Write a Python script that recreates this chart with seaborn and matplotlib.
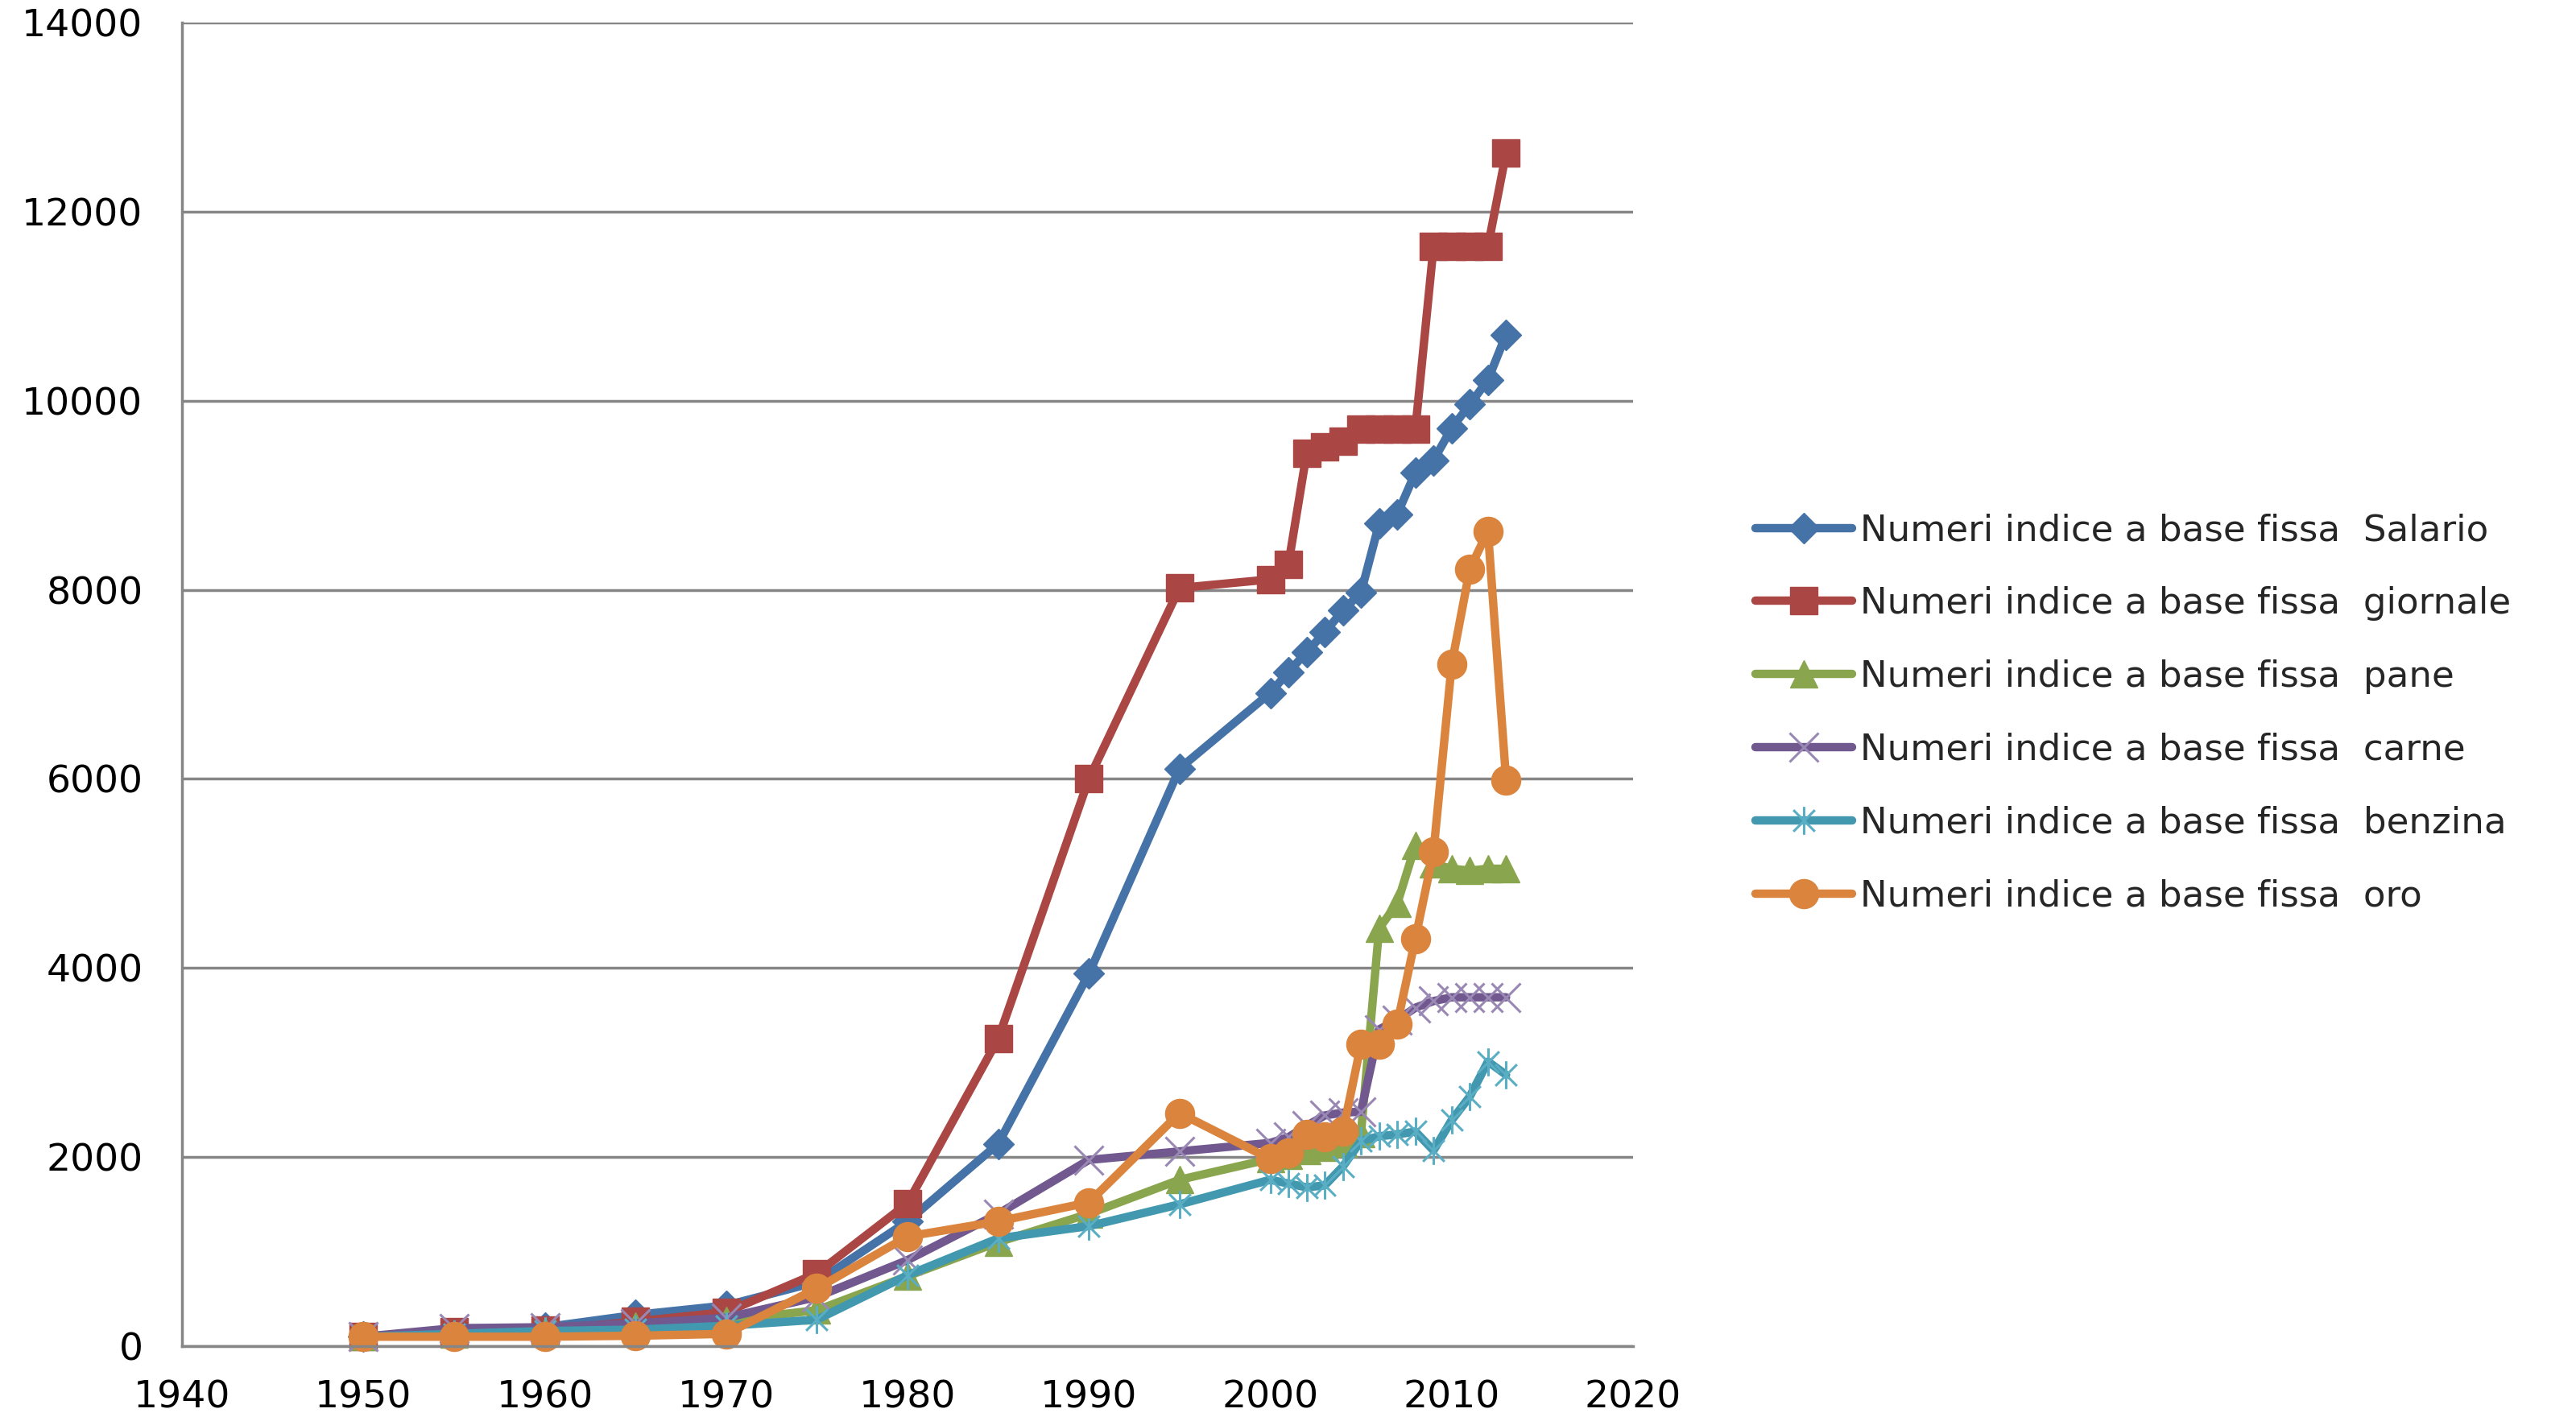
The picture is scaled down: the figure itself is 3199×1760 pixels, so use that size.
import numpy as np
import pandas as pd
import matplotlib
matplotlib.use("Agg")
import matplotlib.pyplot as plt
from matplotlib.path import Path
import seaborn as sns

# Years of observation
anni = [1950, 1955, 1960, 1965, 1970, 1975, 1980, 1985, 1990, 1995,
        2000, 2001, 2002, 2003, 2004, 2005, 2006, 2007, 2008, 2009,
        2010, 2011, 2012, 2013]

# Fixed-base index numbers (1950 = 100)
salario = [100, 140, 200, 330, 430, 680, 1320, 2140, 3940, 6110,
           6910, 7130, 7340, 7550, 7780, 7970, 8700, 8800, 9240, 9370,
           9710, 9960, 10220, 10700]
giornale = [100, 150, 170, 260, 360, 770, 1510, 3250, 6000, 8020,
            8110, 8270, 9440, 9510, 9570, 9700, 9700, 9700, 9700, 11630,
            11630, 11630, 11630, 12620]
pane = [100, 130, 150, 210, 270, 380, 740, 1100, 1400, 1760,
        1980, 2020, 2070, 2100, 2150, 2250, 4420, 4680, 5300, 5100,
        5050, 5030, 5050, 5050]
carne = [100, 190, 200, 240, 300, 520, 910, 1400, 1970, 2060,
         2150, 2210, 2330, 2440, 2470, 2480, 3350, 3450, 3580, 3650,
         3690, 3690, 3690, 3690]
benzina = [100, 130, 160, 175, 215, 280, 750, 1140, 1270, 1500,
           1760, 1720, 1680, 1700, 1900, 2170, 2220, 2240, 2270, 2070,
           2390, 2640, 3010, 2870]
oro = [100, 100, 100, 110, 130, 610, 1160, 1320, 1520, 2465,
       1980, 2040, 2240, 2210, 2270, 3190, 3190, 3410, 4310, 5230,
       7210, 8220, 8620, 5990]

nomi = ["Salario", "giornale", "pane", "carne", "benzina", "oro"]
serie = [salario, giornale, pane, carne, benzina, oro]
prefisso = "Numeri indice a base fissa  "

righe = []
for nome, valori in zip(nomi, serie):
    for a, v in zip(anni, valori):
        righe.append({"anno": a, "valore": v, "serie": prefisso + nome})
df = pd.DataFrame(righe)

# Asterisk marker: an "x" crossed by a vertical stroke
stella = Path([(-1, -1), (1, 1), (-1, 1), (1, -1), (0, -1.3), (0, 1.3)],
              [Path.MOVETO, Path.LINETO, Path.MOVETO, Path.LINETO,
               Path.MOVETO, Path.LINETO])

stili = {
    "Salario":  dict(color="#4572A7", marker="D", ms=19, mec="#4572A7", mew=1.0),
    "giornale": dict(color="#AA4643", marker="s", ms=24, mec="#AA4643", mew=1.0),
    "pane":     dict(color="#89A54E", marker="^", ms=25, mec="#89A54E", mew=1.0),
    "carne":    dict(color="#71588F", marker="x", ms=26, mec="#9A88B4", mew=2.2),
    "benzina":  dict(color="#4198AF", marker=stella, ms=25, mec="#5AAEC4", mew=2.2),
    "oro":      dict(color="#DB843D", marker="o", ms=26, mec="#DB843D", mew=1.0),
}

sns.set_style("white")
plt.rcParams["font.family"] = ["DejaVu Sans"]

fig = plt.figure(figsize=(31.99, 17.6), dpi=100)
ax = fig.add_axes([226 / 3199, 1 - 1672 / 1760, (2028 - 226) / 3199, (1672 - 28) / 1760])

for nome in nomi:
    st = stili[nome]
    sub = df[df["serie"] == prefisso + nome]
    sns.lineplot(data=sub, x="anno", y="valore", ax=ax, color=st["color"],
                 linewidth=7.5, marker=st["marker"], markersize=st["ms"],
                 markeredgecolor=st["mec"], markeredgewidth=st["mew"],
                 markerfacecolor=st["color"], label=prefisso + nome,
                 estimator=None, sort=False, clip_on=False)

grigio = "#868686"
ax.set_xlim(1940, 2020)
ax.set_ylim(0, 14000)
ax.set_xticks(np.arange(1940, 2021, 10))
ax.set_yticks(np.arange(0, 14001, 2000))
ax.yaxis.grid(True, color=grigio, linewidth=2.5)
ax.xaxis.grid(False)
ax.set_axisbelow(True)
for lato in ["top", "right"]:
    ax.spines[lato].set_visible(False)
for lato in ["left", "bottom"]:
    ax.spines[lato].set_color(grigio)
    ax.spines[lato].set_linewidth(2.5)
ax.tick_params(axis="both", which="major", direction="out", length=11,
               width=2.5, color=grigio, labelsize=34, labelcolor="black")
ax.tick_params(axis="y", pad=24)
ax.tick_params(axis="x", pad=19)
ax.set_xlabel("")
ax.set_ylabel("")

leg = ax.legend(loc="center left", bbox_to_anchor=(2180 / 3199, 1 - 886 / 1760),
                bbox_transform=fig.transFigure, frameon=False, fontsize=32.5,
                handlelength=2.65, handletextpad=0.22, labelspacing=1.06,
                borderpad=0, borderaxespad=0)

fig.savefig("out.png", dpi=100, facecolor="white")
